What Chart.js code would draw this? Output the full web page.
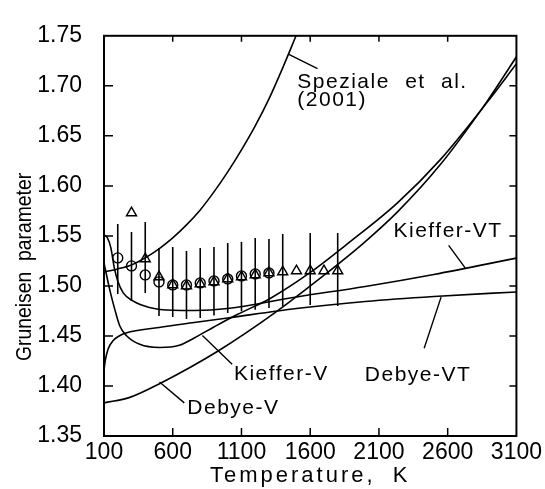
<!DOCTYPE html>
<html><head><meta charset="utf-8">
<script src="https://cdn.jsdelivr.net/npm/chart.js@4.4.1/dist/chart.umd.min.js"></script>
<style>html,body{margin:0;padding:0;background:#fff}canvas{display:block}</style>
</head><body>
<canvas id="c" width="545" height="489"></canvas>
<script>
// ---- tick labels ----
const xTickVals = [100, 600, 1100, 1600, 2100, 2600, 3100];
const yTickVals = [1.35, 1.40, 1.45, 1.50, 1.55, 1.60, 1.65, 1.70, 1.75];

// ---- model curves (temperature K, Gruneisen parameter) ----
const tSpeziale = [100, 200, 300, 400, 500, 600, 700, 800, 900, 1000, 1100, 1200, 1300, 1400, 1500];
const gSpeziale = [1.514, 1.517, 1.521, 1.528, 1.537, 1.548, 1.561, 1.576, 1.594, 1.614, 1.636, 1.660, 1.687, 1.718, 1.751];

const tKiefferV = [100, 143, 179, 215, 264, 360, 504, 648, 756, 900, 1069, 1309, 1598, 1886, 2235, 2545, 2884, 3100];
const gKiefferV = [1.523, 1.4955, 1.4763, 1.4599, 1.4502, 1.4416, 1.4384, 1.4406, 1.448, 1.459, 1.4714, 1.4875, 1.5132, 1.5437, 1.583, 1.626, 1.683, 1.722];

const tDebyeV = [100, 288, 504, 924, 1357, 1694, 1982, 2235, 2545, 2884, 3100];
const gDebyeV = [1.3831, 1.3886, 1.4023, 1.4345, 1.4746, 1.510, 1.5421, 1.574, 1.621, 1.684, 1.729];

const tKiefferVT = [100, 125, 150, 175, 200, 240, 310, 430, 600, 760, 1000, 1500, 2000, 2500, 3100];
const gKiefferVT = [1.551, 1.548, 1.538, 1.518, 1.505, 1.493, 1.485, 1.4785, 1.4757, 1.4755, 1.4775, 1.489, 1.4995, 1.5115, 1.5278];

const tDebyeVT = [100, 110, 130, 167, 210, 260, 500, 756, 1000, 1500, 2000, 2500, 3100];
const gDebyeVT = [1.416, 1.426, 1.437, 1.4455, 1.450, 1.453, 1.4585, 1.4634, 1.468, 1.4775, 1.4845, 1.4895, 1.494];

// ---- measurements ----
const tCircles = [200, 300, 400, 500, 600, 700, 800, 900, 1000, 1100, 1200, 1300];
const gCircles = [1.528, 1.520, 1.511, 1.504, 1.501, 1.501, 1.503, 1.505, 1.507, 1.510, 1.512, 1.513];

const tTriangles = [300, 400, 500, 600, 700, 800, 900, 1000, 1100, 1200, 1300, 1400, 1500, 1600, 1700, 1800];
const gTriangles = [1.573, 1.527, 1.509, 1.501, 1.500, 1.502, 1.504, 1.507, 1.509, 1.511, 1.513, 1.514, 1.515, 1.515, 1.515, 1.515];

const tErr = [200, 300, 400, 500, 600, 700, 800, 900, 1000, 1100, 1200, 1300, 1400, 1600, 1800];
const gErrLow = [1.492, 1.485, 1.493, 1.470, 1.469, 1.467, 1.468, 1.4705, 1.473, 1.4746, 1.4763, 1.478, 1.480, 1.481, 1.480];
const gErrHigh = [1.562, 1.554, 1.564, 1.538, 1.539, 1.535, 1.538, 1.539, 1.543, 1.544, 1.548, 1.547, 1.552, 1.553, 1.553];

// ---- curve labels text ----
const labelSpeziale = ['Speziale et al.', '(2001)'];
const labelKiefferVT = 'Kieffer-VT';
const labelKiefferV = 'Kieffer-V';
const labelDebyeV = 'Debye-V';
const labelDebyeVT = 'Debye-VT';
const xTitle = 'Temperature, K';
const yTitle = 'Gruneisen parameter';

function pts(ts, gs) { return ts.map((t, i) => ({x: t, y: gs[i]})); }
const errData = [];
tErr.forEach((t, i) => { errData.push({x: t, y: gErrLow[i]}, {x: t, y: gErrHigh[i]}, {x: t, y: null}); });

const curve = {showLine: true, borderColor: '#000', borderWidth: 1.6, pointRadius: 0, cubicInterpolationMode: 'monotone', fill: false};
const FONT = "'Liberation Sans', Arial, sans-serif";

const notes = [
  {text: labelSpeziale, x: 1506, y: [1.698, 1.6796], line: [[1441, 1.7317], [1653, 1.7172]]},
  {text: [labelKiefferVT], x: 2206, y: [1.5486], line: [[2607, 1.5406], [2727, 1.518]]},
  {text: [labelKiefferV], x: 1045, y: [1.4059], line: [[816, 1.4505], [1032, 1.4216]]},
  {text: [labelDebyeV], x: 706, y: [1.3722], line: [[504, 1.404], [684, 1.3831]]},
  {text: [labelDebyeVT], x: 1997, y: [1.405], line: [[2552, 1.4888], [2429, 1.4377]]}
];

const decor = {
  id: 'decor',
  afterDraw(chart) {
    const {ctx, chartArea: a, scales: {x, y}} = chart;
    ctx.save();
    ctx.strokeStyle = '#000';
    ctx.lineWidth = 2;
    ctx.strokeRect(a.left, a.top, a.right - a.left, a.bottom - a.top);
    ctx.lineWidth = 1.5;
    ctx.beginPath();
    xTickVals.forEach(v => {
      const px = x.getPixelForValue(v);
      if (px <= a.left + 1 || px >= a.right - 1) return;
      ctx.moveTo(px, a.bottom); ctx.lineTo(px, a.bottom - 8);
      ctx.moveTo(px, a.top); ctx.lineTo(px, a.top + 6);
    });
    yTickVals.forEach(v => {
      const py = y.getPixelForValue(v);
      if (py <= a.top + 1 || py >= a.bottom - 1) return;
      ctx.moveTo(a.left, py); ctx.lineTo(a.left + 9, py);
      ctx.moveTo(a.right, py); ctx.lineTo(a.right - 7, py);
    });
    ctx.stroke();
    // pointer lines
    ctx.lineWidth = 1.4;
    ctx.beginPath();
    notes.forEach(n => {
      ctx.moveTo(x.getPixelForValue(n.line[0][0]), y.getPixelForValue(n.line[0][1]));
      ctx.lineTo(x.getPixelForValue(n.line[1][0]), y.getPixelForValue(n.line[1][1]));
    });
    ctx.stroke();
    // labels
    ctx.fillStyle = '#000';
    ctx.font = '21px ' + FONT;
    ctx.letterSpacing = '1.5px';
    ctx.wordSpacing = '8px';
    ctx.textAlign = 'left';
    ctx.textBaseline = 'alphabetic';
    notes.forEach(n => {
      n.text.forEach((t, i) => ctx.fillText(t, x.getPixelForValue(n.x), y.getPixelForValue(n.y[i])));
    });
    // axis titles
    ctx.font = '22px ' + FONT;
    ctx.letterSpacing = '3px';
    ctx.wordSpacing = '8px';
    ctx.textAlign = 'center';
    ctx.fillText(xTitle, (a.left + a.right) / 2, 482);
    ctx.translate(31, y.getPixelForValue(1.519));
    ctx.rotate(-Math.PI / 2);
    ctx.scale(0.88, 1);
    ctx.letterSpacing = '0px';
    ctx.wordSpacing = '6px';
    ctx.fillText(yTitle, 0, 0);
    ctx.restore();
  }
};

new Chart(document.getElementById('c'), {
  type: 'scatter',
  data: {
    datasets: [
      Object.assign({data: pts(tSpeziale, gSpeziale)}, curve),
      Object.assign({data: pts(tKiefferV, gKiefferV)}, curve),
      Object.assign({data: pts(tDebyeV, gDebyeV)}, curve),
      Object.assign({data: pts(tKiefferVT, gKiefferVT)}, curve),
      Object.assign({data: pts(tDebyeVT, gDebyeVT)}, curve),
      {data: errData, showLine: true, spanGaps: false, borderColor: '#000', borderWidth: 1.6, pointRadius: 0},
      {data: pts(tCircles, gCircles), pointStyle: 'circle', pointRadius: 5, borderColor: '#000', borderWidth: 1.4, backgroundColor: 'rgba(0,0,0,0)'},
      {data: pts(tTriangles, gTriangles), pointStyle: 'triangle', pointRadius: 5.8, borderColor: '#000', borderWidth: 1.4, backgroundColor: 'rgba(0,0,0,0)'}
    ]
  },
  options: {
    responsive: false,
    animation: false,
    devicePixelRatio: 1,
    events: [],
    layout: {padding: {top: 21, right: 25, left: 0, bottom: 0}},
    plugins: {legend: {display: false}, tooltip: {enabled: false}},
    scales: {
      x: {
        type: 'linear', min: 100, max: 3100,
        afterBuildTicks: s => { s.ticks = xTickVals.map(v => ({value: v})); },
        afterFit: s => { s.height = 53; },
        grid: {display: false, drawTicks: false},
        border: {display: false},
        ticks: {color: '#000', font: {family: FONT, size: 23}, padding: 3, autoSkip: false, maxRotation: 0, callback: v => String(v)}
      },
      y: {
        type: 'linear', min: 1.35, max: 1.75,
        afterBuildTicks: s => { s.ticks = yTickVals.map(v => ({value: v})); },
        afterFit: s => { s.width = 104; },
        grid: {display: false, drawTicks: false},
        border: {display: false},
        ticks: {color: '#000', font: {family: FONT, size: 23}, padding: 22, autoSkip: false, callback: v => v.toFixed(2)}
      }
    }
  },
  plugins: [decor]
});
</script>
</body></html>
